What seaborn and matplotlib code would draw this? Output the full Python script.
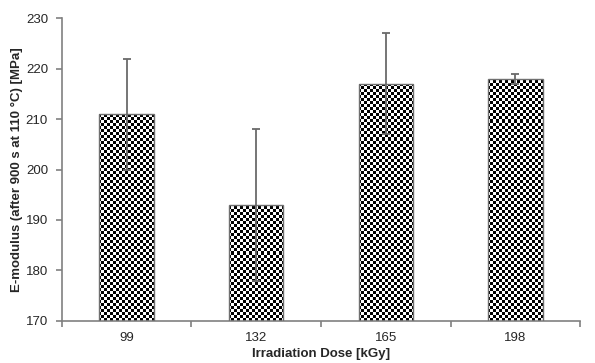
import numpy as np
import pandas as pd
import matplotlib
matplotlib.use('Agg')
import matplotlib.pyplot as plt
import seaborn as sns

doses = ['99', '132', '165', '198']
modulus = [211, 193, 217, 218]
modulus_err = [11, 15, 10, 1]

sns.set_style('white')
plt.rcParams['font.family'] = ['Liberation Sans', 'DejaVu Sans']

df = pd.DataFrame({'dose': doses, 'modulus': modulus})

fig = plt.figure(figsize=(5.95, 3.63), dpi=100)
ax = fig.add_axes([0.104, 0.116, 0.871, 0.834])

sns.barplot(data=df, x='dose', y='modulus', color='white', width=0.42,
            edgecolor='#707070', linewidth=1.0, errorbar=None, ax=ax,
            zorder=2)

ax.set_ylim(170, 230)
ax.set_xlim(-0.5, 3.5)

# checkerboard fill, clipped to each bar
ncols, nrows = 518 // 3, 303 // 3
checker = (np.indices((nrows, ncols)).sum(axis=0) % 2).astype(float)
for patch in ax.patches:
    im = ax.imshow(checker, cmap='gray', extent=(-0.5, 3.5, 170, 230),
                   aspect='auto', interpolation='nearest', zorder=2.5,
                   vmin=0, vmax=1)
    im.set_clip_path(patch)
    patch.set_zorder(3)
    patch.set_facecolor('none')
ax.set_xlim(-0.5, 3.5)
ax.set_ylim(170, 230)

ax.errorbar(range(len(doses)), modulus, yerr=modulus_err, fmt='none',
            ecolor='#6a6a6a', elinewidth=1.3, capsize=3, capthick=1.3,
            zorder=4)

for side in ['top', 'right']:
    ax.spines[side].set_visible(False)
for side in ['left', 'bottom']:
    ax.spines[side].set_color('#808080')
    ax.spines[side].set_linewidth(1.2)

ax.set_yticks(range(170, 231, 10))
ax.set_xticks(range(len(doses)))
ax.set_xticklabels(doses)
ax.set_xticks([-0.5, 0.5, 1.5, 2.5, 3.5], minor=True)
ax.tick_params(axis='x', which='major', length=0, pad=8, labelsize=9.5)
ax.tick_params(axis='x', which='minor', length=4, width=1.2,
               color='#808080', direction='out', bottom=True)
ax.tick_params(axis='y', length=4, width=1.2, color='#808080',
               direction='out', left=True, labelsize=9.5, pad=6)

ax.set_xlabel('Irradiation Dose [kGy]', fontsize=9.5, fontweight='bold',
              labelpad=3)
ax.set_ylabel('E-modulus (after 900 s at 110 °C) [MPa]', fontsize=9.5,
              fontweight='bold', labelpad=2)

fig.savefig('out.png', dpi=100)
